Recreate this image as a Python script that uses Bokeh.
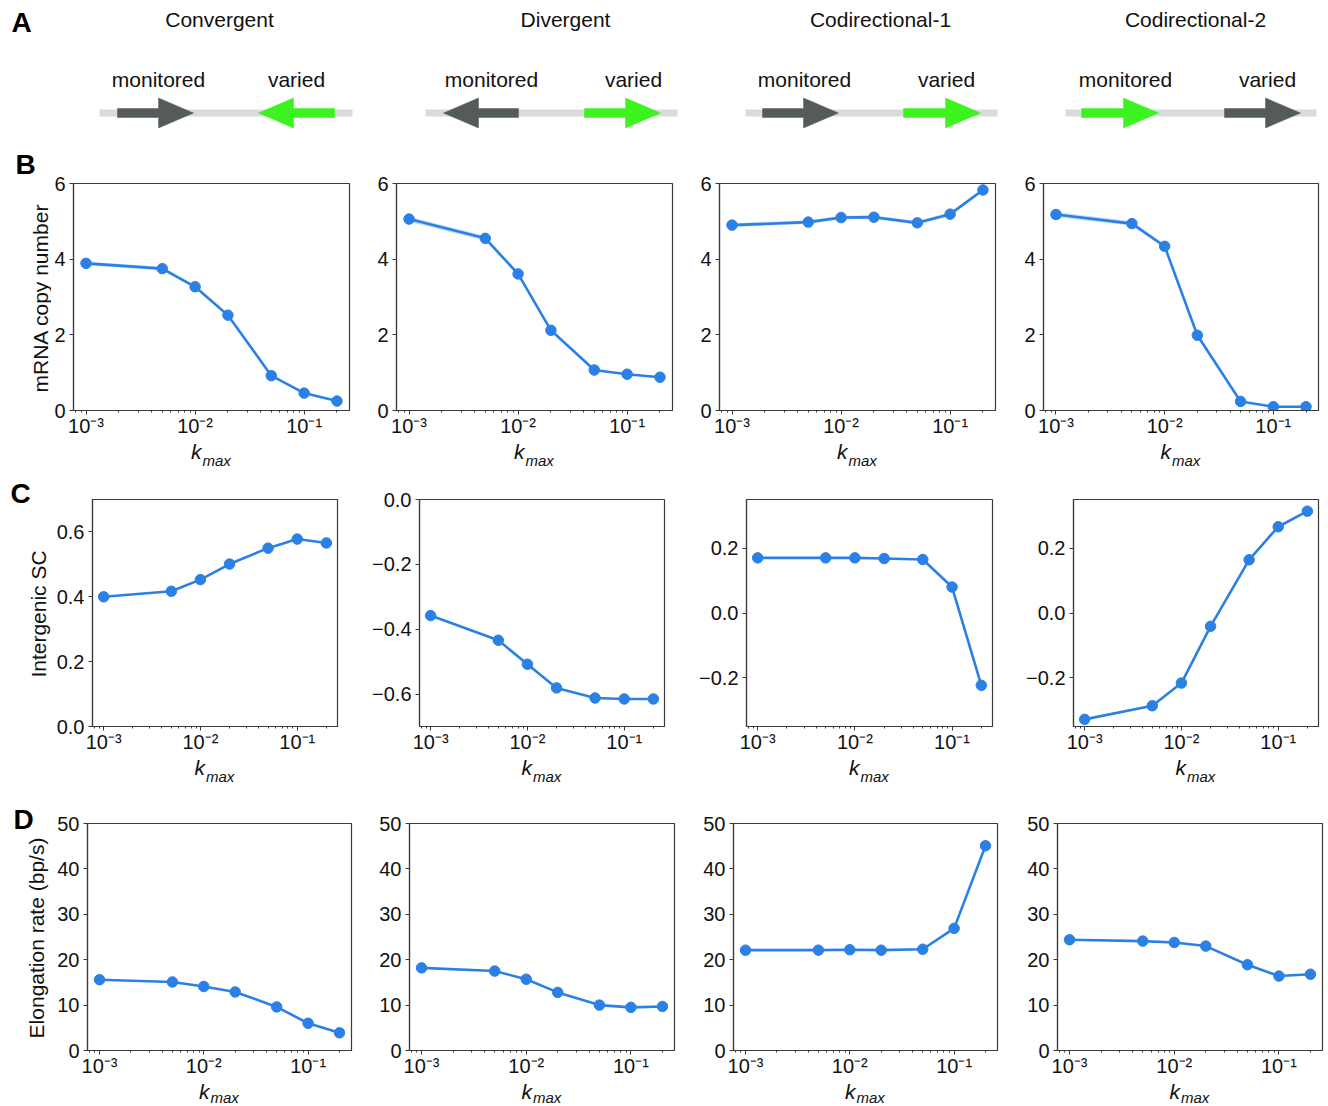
import math
from bokeh.plotting import figure
from bokeh.layouts import column, row
from bokeh.models import Range1d, FixedTicker, CustomJSTickFormatter
from bokeh.core.properties import value
from bokeh.embed import file_html
from bokeh.resources import INLINE

# ---------------- data ----------------
kmax = [1e-3, 5e-3, 1e-2, 2e-2, 5e-2, 1e-1, 2e-1]
configs = ["Convergent", "Divergent", "Codirectional-1", "Codirectional-2"]

mrna_convergent = [3.89, 3.75, 3.27, 2.52, 0.92, 0.46, 0.25]
mrna_divergent = [5.06, 4.55, 3.61, 2.12, 1.07, 0.96, 0.88]
mrna_codir1 = [4.90, 4.98, 5.10, 5.11, 4.96, 5.19, 5.83]
mrna_codir2 = [5.18, 4.94, 4.34, 1.99, 0.24, 0.10, 0.10]
mrna_err_convergent = [0.05, 0.05, 0.04, 0.03, 0.02, 0.01, 0.01]
mrna_err_divergent = [0.07, 0.06, 0.04, 0.03, 0.02, 0.01, 0.01]
mrna_err_codir1 = [0.05, 0.05, 0.05, 0.05, 0.05, 0.05, 0.04]
mrna_err_codir2 = [0.07, 0.06, 0.05, 0.03, 0.01, 0.01, 0.01]

sc_convergent = [0.400, 0.417, 0.453, 0.501, 0.550, 0.578, 0.566]
sc_divergent = [-0.358, -0.434, -0.508, -0.581, -0.612, -0.615, -0.615]
sc_codir1 = [0.170, 0.170, 0.170, 0.168, 0.165, 0.080, -0.223]
sc_codir2 = [-0.328, -0.286, -0.216, -0.041, 0.164, 0.266, 0.314]

el_convergent = [15.6, 15.1, 14.1, 12.9, 9.6, 6.0, 3.9]
el_divergent = [18.2, 17.5, 15.7, 12.8, 10.0, 9.5, 9.7]
el_codir1 = [22.1, 22.1, 22.2, 22.1, 22.3, 26.9, 45.1]
el_codir2 = [24.4, 24.1, 23.8, 23.0, 18.9, 16.4, 16.8]

mrna_ticks = [0, 2, 4, 6]
sc_ticks_convergent = [0.0, 0.2, 0.4, 0.6]
sc_ticks_divergent = [-0.6, -0.4, -0.2, 0.0]
sc_ticks_codir = [-0.2, 0.0, 0.2]
el_ticks = [0, 10, 20, 30, 40, 50]

row_labels = ["mRNA copy number", "Intergenic SC", "Elongation rate (bp/s)"]
row_letters = ["B", "C", "D"]

# ---------------- style ----------------
FONT = "Liberation Sans"
BLUE = "#2b80e6"
FRAME = "#3a3a3a"
TXT = "#111111"
W = 1328
HDR_H = 150
STRIP_W = 51

xlo = 10 ** (math.log10(kmax[0]) - 0.115)
xhi = 10 ** (math.log10(kmax[-1]) + 0.115)
x_major = [1e-3, 1e-2, 1e-1]
x_minor = [m * 10.0 ** e for e in (-4, -3, -2, -1) for m in range(2, 10)]
x_minor = [v for v in x_minor if xlo <= v <= xhi]

XFMT = CustomJSTickFormatter(code="""
const e = Math.round(Math.log10(tick));
const sup = {'-':'\u207b','0':'\u2070','1':'\u00b9','2':'\u00b2','3':'\u00b3','4':'\u2074'};
return '10' + String(e).split('').map(c => sup[c]).join('');
""")


def yfmt(dec):
    return CustomJSTickFormatter(args=dict(d=dec), code="""
let t = tick;
if (Math.abs(t) < 1e-9) { t = 0; }
return t.toFixed(d).replace('-', '\u2212');
""")


def blank(width, height, xr, yr):
    p = figure(width=width, height=height, x_range=Range1d(*xr), y_range=Range1d(*yr),
               output_backend="svg", toolbar_location=None, title=None,
               x_axis_location=None, y_axis_location=None,
               min_border_left=0, min_border_right=0, min_border_top=0, min_border_bottom=0)
    p.grid.visible = False
    p.outline_line_color = None
    p.background_fill_color = "white"
    p.border_fill_color = "white"
    return p


def panel(y, err, yr, yticks, dec, width, height, bl, br, bt, bb):
    p = figure(width=width, height=height, x_axis_type="log",
               x_range=Range1d(xlo, xhi), y_range=Range1d(*yr),
               output_backend="svg", toolbar_location=None, title=None,
               min_border_left=bl, min_border_right=br,
               min_border_top=bt, min_border_bottom=bb)
    p.grid.visible = False
    p.outline_line_color = FRAME
    p.outline_line_width = 1.2
    p.outline_line_alpha = 1.0
    p.background_fill_color = "white"
    p.border_fill_color = "white"
    if err is not None:
        lo = [a - b for a, b in zip(y, err)]
        hi = [a + b for a, b in zip(y, err)]
        p.varea(x=kmax, y1=lo, y2=hi, fill_color=BLUE, fill_alpha=0.25)
    p.line(kmax, y, line_color=BLUE, line_width=2.6)
    p.scatter(kmax, y, size=10.5, fill_color=BLUE, line_color=BLUE)

    xa = p.xaxis[0]
    xa.ticker = FixedTicker(ticks=x_major, minor_ticks=x_minor)
    xa.formatter = XFMT
    ya = p.yaxis[0]
    ya.ticker = FixedTicker(ticks=yticks, minor_ticks=[])
    ya.formatter = yfmt(dec)
    for ax in (xa, ya):
        ax.axis_line_color = FRAME
        ax.axis_line_width = 1.2
        ax.major_tick_line_color = FRAME
        ax.minor_tick_line_color = FRAME
        ax.major_tick_in = 0
        ax.major_tick_out = 4
        ax.minor_tick_in = 0
        ax.minor_tick_out = 2
        ax.major_label_text_font = FONT
        ax.major_label_text_font_size = "20px"
        ax.major_label_text_color = TXT
    xa.major_label_standoff = 0
    ya.major_label_standoff = 4
    ya.minor_tick_line_color = None
    return p


# ---------------- header (panel A) ----------------
hdr = blank(W, HDR_H, (0, W), (HDR_H, 0))
title_x = [219, 565, 880, 1195]
gene_labels = ["monitored", "varied"] * 4
gene_label_x = [158, 296, 491, 633, 804, 946, 1125, 1267]
bars = [(99, 352), (425, 677), (745, 997), (1065, 1316)]
DARK = "#555b5b"
GREEN = "#3cf21f"
arrows = [(117, 193, DARK), (334, 258, GREEN),
          (518, 443, DARK), (584, 660, GREEN),
          (762, 838, DARK), (903, 980, GREEN),
          (1081, 1158, GREEN), (1224, 1300, DARK)]

hdr.text(x=title_x, y=[19] * 4, text=configs, text_font=value(FONT),
         text_font_size="21px", text_align="center", text_baseline="middle",
         text_color=TXT)
hdr.text(x=gene_label_x, y=[79] * 8, text=gene_labels, text_font=value(FONT),
         text_font_size="21px", text_align="center", text_baseline="middle",
         text_color=TXT)
hdr.text(x=[11], y=[22], text=["A"], text_font=value(FONT), text_font_size="28px",
         text_font_style="bold", text_align="left", text_baseline="middle",
         text_color="#000000")

cy = 112.5
hdr.quad(left=[b[0] for b in bars], right=[b[1] for b in bars],
         top=[cy - 3.5] * 4, bottom=[cy + 3.5] * 4, fill_color="#d9dcdc", line_color=None)
xs, ys, cols = [], [], []
for x0, x1, c in arrows:
    d = 1 if x1 > x0 else -1
    hb = x1 - d * 35
    xs.append([x0, hb, hb, x1, hb, hb, x0])
    ys.append([cy - 4.5, cy - 4.5, cy - 15, cy, cy + 15, cy + 4.5, cy + 4.5])
    cols.append(c)
hdr.patches(xs, ys, fill_color=cols, line_color=cols, line_width=0.5)

# ---------------- rows B, C, D ----------------
FH = 229
BB = 27
rows_spec = [
    dict(top=150, bt=33, strip=31, cells=[(309, 22, 11), (330, 36, 18), (322, 29, 17), (316, 31, 10)],
         kbase=458, mbase=465, letter_xy=(15, 164.3), label_x=39.5),
    dict(top=470, bt=29, strip=35, cells=[(294, 41, 8), (335, 74, 16), (330, 66, 18), (318, 63, 10)],
         kbase=774, mbase=781, letter_xy=(10, 492.5), label_x=37.7),
    dict(top=790, bt=33, strip=27, cells=[(311, 36, 11), (328, 47, 16), (322, 43, 15), (316, 45, 6)],
         kbase=1098, mbase=1102.5, letter_xy=(13, 819), label_x=36),
]
row_series = [
    [(mrna_convergent, mrna_err_convergent, (0, 6), mrna_ticks, 0),
     (mrna_divergent, mrna_err_divergent, (0, 6), mrna_ticks, 0),
     (mrna_codir1, mrna_err_codir1, (0, 6), mrna_ticks, 0),
     (mrna_codir2, mrna_err_codir2, (0, 6), mrna_ticks, 0)],
    [(sc_convergent, None, (0, 0.7), sc_ticks_convergent, 1),
     (sc_divergent, None, (-0.7, 0.0), sc_ticks_divergent, 1),
     (sc_codir1, None, (-0.35, 0.35), sc_ticks_codir, 1),
     (sc_codir2, None, (-0.35, 0.35), sc_ticks_codir, 1)],
    [(el_convergent, None, (0, 50), el_ticks, 0),
     (el_divergent, None, (0, 50), el_ticks, 0),
     (el_codir1, None, (0, 50), el_ticks, 0),
     (el_codir2, None, (0, 50), el_ticks, 0)],
]

# left strip spanning rows B-D: panel letters and rotated y-axis labels
left = blank(STRIP_W, 1106 - HDR_H, (0, STRIP_W), (1106, HDR_H))
right_children = []
for spec, series, ylab, letter in zip(rows_spec, row_series, row_labels, row_letters):
    H = spec["bt"] + FH + BB
    top = spec["top"]
    frame_top = top + spec["bt"]
    left.text(x=[spec["letter_xy"][0]], y=[spec["letter_xy"][1]], text=[letter],
              text_font=value(FONT), text_font_size="28px", text_font_style="bold",
              text_align="left", text_baseline="middle", text_color="#000000")
    left.text(x=[spec["label_x"]], y=[frame_top + FH / 2], text=[ylab], angle=math.pi / 2,
              text_font=value(FONT), text_font_size="21px", text_align="center",
              text_baseline="middle", text_color=TXT)
    figs = []
    centers = []
    x_cursor = STRIP_W
    for (w, bl, br), (yv, err, yr, yt, dec) in zip(spec["cells"], series):
        figs.append(panel(yv, err, yr, yt, dec, w, H, bl, br, spec["bt"], BB))
        centers.append(x_cursor + bl + (w - bl - br) / 2)
        x_cursor += w
    right_children.append(row(*figs))
    # strip below: k_max axis labels (page pixel coordinates)
    st_top = top + H
    st = blank(W - STRIP_W, spec["strip"], (STRIP_W, W), (st_top + spec["strip"], st_top))
    st.text(x=[c - 10 for c in centers], y=[spec["kbase"] - 7.3] * 4, text=["k"] * 4,
            text_font=value(FONT), text_font_size="21px", text_font_style="italic",
            text_align="right", text_baseline="middle", text_color=TXT)
    st.text(x=[c - 9 for c in centers], y=[spec["mbase"] - 5.2] * 4, text=["max"] * 4,
            text_font=value(FONT), text_font_size="15px", text_font_style="italic",
            text_align="left", text_baseline="middle", text_color=TXT)
    right_children.append(st)

layout = column(hdr, row(left, column(*right_children)))
open("out.html", "w").write(file_html(layout, INLINE))
